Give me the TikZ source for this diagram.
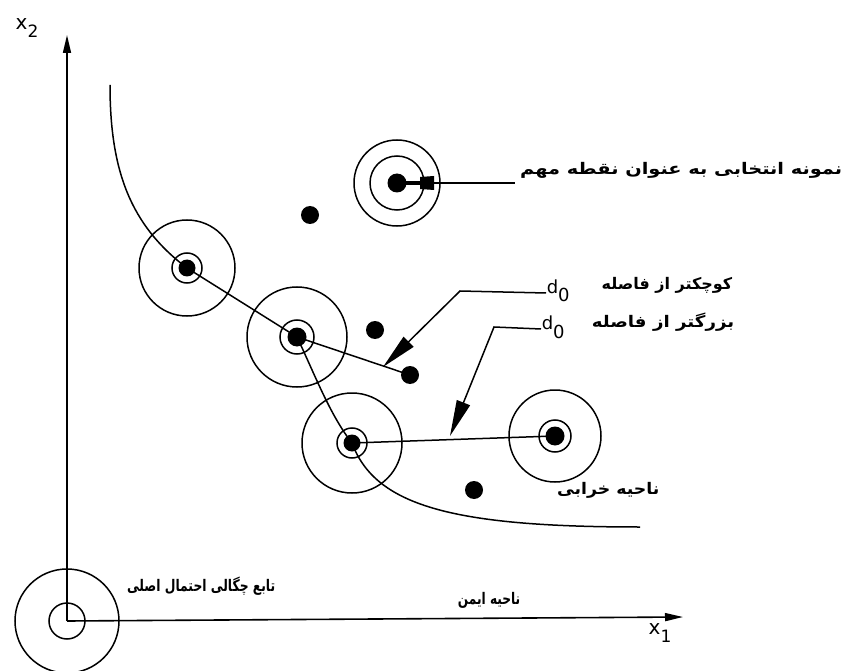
\documentclass[tikz,border=0pt]{standalone}
\usepackage{fontspec}
\newfontfamily\fa[Script=Arabic]{DejaVu Sans}
\newfontfamily\lat{DejaVu Sans}
\TeXXeTstate=1
\usetikzlibrary{arrows.meta}

\begin{document}
\begin{tikzpicture}[x=1pt,y=-1pt,line width=1.5pt,
  dot/.style={circle,fill=black,inner sep=0pt,minimum size=#1},
  dot/.default=19pt,
  ring/.style={line width=1.5pt},
  fatext/.style={inner sep=0pt,anchor=east,font=\fa\bfseries\fontsize{16}{18}\selectfont},
  fasmall/.style={inner sep=0pt,anchor=east,font=\fa\bfseries\fontsize{16}{18}\selectfont},
  axlabel/.style={inner sep=0pt,font=\lat\fontsize{20}{22}\selectfont},
  dlabel/.style={inner sep=0pt,anchor=base west,font=\lat\fontsize{18}{20}\selectfont},
  leader/.style={line width=1.5pt,-{Triangle[length=36pt,width=14pt]}},
  curve/.style={line width=1.5pt}]
\useasboundingbox (0,0) rectangle (857,671);

% axes
\coordinate (O) at (67,621);
\coordinate (ytop) at (67,35);
\coordinate (xend) at (683,617);
\draw[line width=1.6pt,-{Triangle[length=18pt,width=8pt]}] (O) -- (ytop);
\draw[line width=1.6pt,-{Triangle[length=18pt,width=8pt]}] (O) -- (xend);
\node[axlabel] (x2) at (27,28) {x\raisebox{-8pt}{\fontsize{17}{19}\selectfont 2}};
\node[axlabel] (x1) at (660,633) {x\raisebox{-8pt}{\fontsize{17}{19}\selectfont 1}};

% original density at the origin
\draw[ring] (O) circle[radius=18];
\draw[ring] (O) circle[radius=52];

% sample points
\node[dot] (s1) at (397,183) {};
\node[dot=17pt] (s2) at (187,268) {};
\node[dot] (s3) at (297,337) {};
\node[dot=17pt] (s4) at (352,443) {};
\node[dot] (s5) at (555,436) {};
\node[dot=18pt] (p1) at (310,215) {};
\node[dot=18pt] (p2) at (375,330) {};
\node[dot=18pt] (p3) at (410,375) {};
\node[dot=18pt] (p4) at (474,490) {};

% kernels around the important samples
\draw[ring] (s1) circle[radius=27];
\draw[ring] (s1) circle[radius=43];
\draw[ring] (s2) circle[radius=15];
\draw[ring] (s2) circle[radius=48];
\draw[ring] (s3) circle[radius=17];
\draw[ring] (s3) circle[radius=50];
\draw[ring] (s4) circle[radius=15];
\draw[ring] (s4) circle[radius=50];
\draw[ring] (s5) circle[radius=16];
\draw[ring] (s5) circle[radius=46];

% limit state curve through the samples
\coordinate (ctop) at (110,85);
\coordinate (cend) at (640,527);
\draw[curve] (ctop) .. controls (110,170) and (130,225) .. (s2.center)
  -- (s3.center) .. controls (315,375) and (330,415) .. (s4.center)
  .. controls (375,505) and (450,527) .. (cend);

% distances between samples
\draw[curve] (s3.center) -- (p3.center);
\draw[curve] (s4.center) -- (s5.center);

% chosen sample pointer
\coordinate (tail) at (515,183);
\draw[line width=1.4pt] (s1.center) -- (tail);
\draw[line width=4.5pt] (s1.center) -- (425,183);
\fill (420,177) -- (434,176) -- (434,190) -- (420,189) -- cycle;

% labels (Persian lines stretched horizontally)
\node[fatext] (t1) at (843,170) {\scalebox{1.21}[1]{\beginR نمونه انتخابی به عنوان نقطه مهم\endR}};
\node[fatext] (t2) at (733,285) {\scalebox{1.0}[1]{\beginR کوچکتر از فاصله\endR}};
\node[dlabel] (d1) at (546,293) {d\raisebox{-9pt}{0}};
\node[fatext] (t3) at (735,322) {\scalebox{1.14}[1]{\beginR بزرگتر از فاصله\endR}};
\node[dlabel] (d2) at (541,329) {d\raisebox{-9pt}{0}};
\node[fatext] (t4) at (660,490) {\scalebox{1.08}[1]{\beginR ناحیه خرابی\endR}};
\node[fasmall] (t5) at (521,600) {\scalebox{0.76}[1]{\beginR ناحیه ایمن\endR}};
\node[fasmall] (t6) at (276,586) {\scalebox{0.77}[1]{\beginR تابع چگالی احتمال اصلی\endR}};

% leaders from the distance labels
\coordinate (k1) at (460,291);
\coordinate (a1) at (383,367);
\coordinate (k2) at (494,327);
\coordinate (a2) at (450,436);
\draw[leader] (d1.base west) -- (k1) -- (a1);
\draw[leader] (d2.base west) -- (k2) -- (a2);
\end{tikzpicture}
\end{document}
